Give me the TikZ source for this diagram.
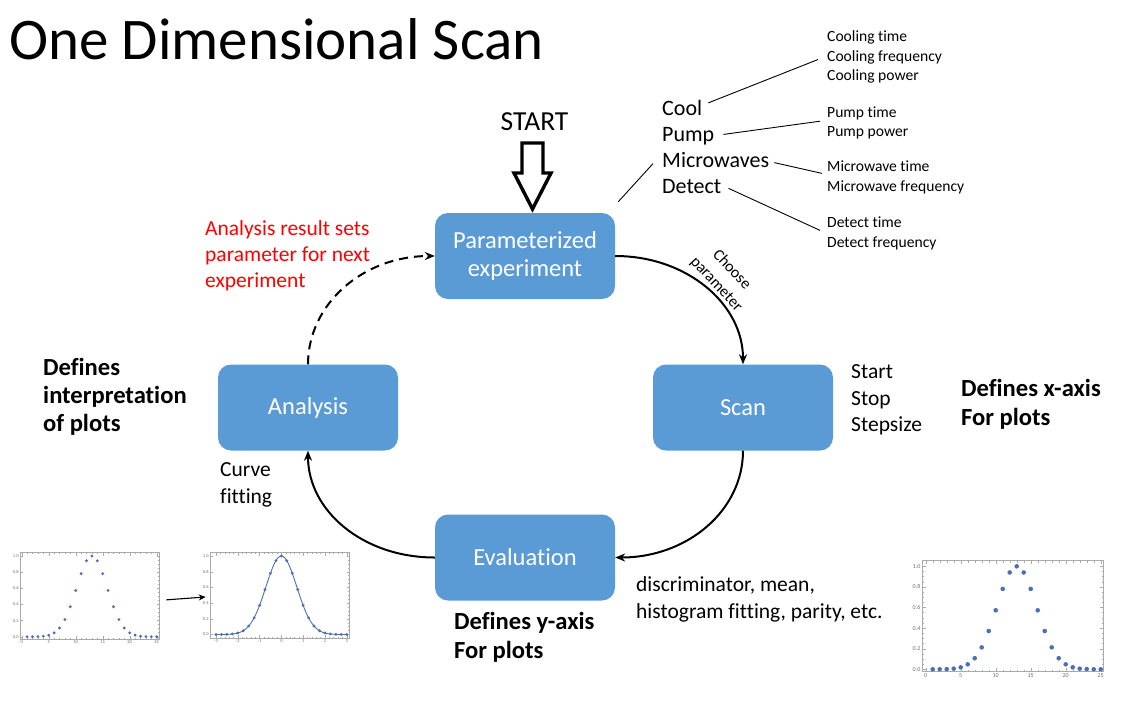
\documentclass[tikz,border=0pt]{standalone}
\usepackage{fontspec}
\setmainfont{Carlito}[Ligatures=NoCommon]
\usetikzlibrary{arrows.meta,calc}
\definecolor{boxblue}{HTML}{5B9BD5}
\definecolor{dotblue}{RGB}{78,112,178}
\definecolor{framegray}{RGB}{170,170,170}
\definecolor{labgray}{RGB}{110,110,110}
\definecolor{notered}{RGB}{255,0,0}

\newcommand\fs[2]{\fontsize{#1}{#2}\selectfont}
% 25 samples of a Gaussian: #1 x-origin, #2 x-step, #3 y-origin, #4 y-scale, #5 dot radius
\newcommand\gaussdots[5]{%
  \foreach \i in {1,...,25}{\fill[dotblue] ({#1+#2*\i},{#3-#4*exp(-((\i-13)^2)/16.16)}) circle (#5);}}
% frame ticks: #1 list, #2 origin, #3 step, #4 first edge, #5 second edge, #6 length
\newcommand\xticks[6]{%
  \foreach \v in {#1}{\draw[tickline] ({#2+#3*\v},#5) -- ++(0,-#6) ({#2+#3*\v},#4) -- ++(0,#6);}}
\newcommand\yticks[6]{%
  \foreach \v in {#1}{\draw[tickline] (#4,{#2-#3*\v}) -- ++(#6,0) (#5,{#2-#3*\v}) -- ++(-#6,0);}}

\begin{document}
\begin{tikzpicture}[x=1pt,y=-1pt,
  stage/.style={fill=boxblue, rounded corners=13pt, minimum width=180pt,
    minimum height=86pt, text=white, align=center, font=\fs{24.5}{27.5}},
  flow/.style={line width=2pt, -{Stealth[length=10pt,width=8pt]}},
  txt/.style={anchor=base west, inner sep=0pt},
  body/.style={txt, font=\fs{21.5}{24}},
  heading/.style={txt, font=\fs{24.6}{28}\bfseries},
  step word/.style={txt, font=\fs{22}{24}},
  setting/.style={txt, font=\fs{15.6}{17}},
  plotframe/.style={draw=framegray, line width=0.6pt, inner sep=0pt},
  tickline/.style={draw=framegray, line width=0.4pt},
  ticklab/.style={inner sep=0.5pt, text=labgray},
  leader/.style={line width=0.9pt}
]
\useasboundingbox (0,0) rectangle (1121,705);

% title
\node[txt, font=\fs{59}{62}] (title) at (9,59) {One Dimensional Scan};

% the four stages of the loop
\node[stage] (param) at (525,256) {Parameterized\\experiment};
\node[stage] (scan)  at (743,407.5) {Scan};
\node[stage] (eval)  at (525,557.5) {Evaluation};
\node[stage] (anal)  at (308,407.5) {Analysis};

% loop connectors
\draw[flow] (param.east) .. controls +(72,0) and +(0,-60) .. (scan.north);
\draw[flow] (scan.south) .. controls +(0,60) and +(72,0) .. (eval.east);
\draw[flow] (eval.west) .. controls +(-72,0) and +(0,60) .. (anal.south);
\draw[flow, dash pattern=on 9pt off 6pt] (anal.north) .. controls +(0,-60) and +(-72,0) .. (param.west);

% start marker
\node[txt, font=\fs{27.5}{30}, anchor=base] (start) at (534.5,130.5) {START};
\draw[line width=3.4pt, line join=miter]
  (522,143) -- (543,143) -- (543,173) -- (551,173) -- (532.5,209)
  -- (514,173) -- (522,173) -- cycle;

% experiment steps and their settings
\node[step word] (cool)   at (662,115)   {Cool};
\node[step word] (pump)   at (662,141.7) {Pump};
\node[step word] (micro)  at (662,167.7) {Microwaves};
\node[step word] (detect) at (662,193.3) {Detect};

\node[setting] (ct) at (827,41.7)  {Cooling time};
\node[setting] (cf) at (827,61.7)  {Cooling frequency};
\node[setting] (cp) at (827,80.7)  {Cooling power};
\node[setting] (pt) at (827,117.3) {Pump time};
\node[setting] (pp) at (827,136.7) {Pump power};
\node[setting] (mt) at (827,171.7) {Microwave time};
\node[setting] (mf) at (827,191.7) {Microwave frequency};
\node[setting] (dt) at (827,227.3) {Detect time};
\node[setting] (df) at (827,247.3) {Detect frequency};

\draw[leader] ($(cool.east)+(6,-4.6)$)   -- ($(cf.west)+(-9,1.9)$);
\draw[leader] ($(pump.east)+(9,-2)$)     -- ($(pt.west)+(-7,8)$);
\draw[leader] ($(micro.east)+(5,2.4)$)   -- ($(mt.west)+(-5,7)$);
\draw[leader] ($(detect.east)+(7,2)$)    -- ($(dt.west)+(-7,8.4)$);
\draw[leader] ($(param.north east)+(3,-11)$) -- ($(micro.west)+(-9,3.4)$);

% annotations
\node[rotate=-47, align=center, font=\fs{16}{21}] (choose) at (724,277) {Choose\\parameter};

\node[body, text=notered] (r1) at (205,235) {Analysis result sets};
\node[body, text=notered] (r2) at (205,261) {parameter for next};
\node[body, text=notered] (r3) at (205,287) {experiment};

\node[heading] (li1) at (43,375)   {Defines};
\node[heading] (li2) at (43,403.3) {interpretation};
\node[heading] (li3) at (43,431.7) {of plots};

\node[body] (cv1) at (220,476.7) {Curve};
\node[body] (cv2) at (220,503.3) {fitting};

\node[body] (ss1) at (851,378.3) {Start};
\node[body] (ss2) at (851,405)   {Stop};
\node[body] (ss3) at (851,431)   {Stepsize};

\node[heading] (xa1) at (961,396) {Defines x-axis};
\node[heading] (xa2) at (961,425) {For plots};

\node[heading] (ya1) at (454,629) {Defines y-axis};
\node[heading] (ya2) at (454,658) {For plots};

\node[body] (ev1) at (636,591.7) {discriminator, mean,};
\node[body] (ev2) at (636,618.3) {histogram fitting, parity, etc.};

% raw scan data
\node[plotframe, minimum width=139.3pt, minimum height=86.3pt] (pA) at (89.65,595.85) {};
\xticks{0,...,25}{21.7}{5.4}{552.7}{639}{1.4}
\xticks{0,5,...,25}{21.7}{5.4}{552.7}{639}{2.8}
\yticks{0,...,20}{636.7}{4.035}{20}{159.3}{1.4}
\yticks{0,...,5}{636.7}{16.14}{20}{159.3}{2.8}
\foreach \v in {0,5,...,25}
  \node[ticklab, anchor=north, font=\fs{4.5}{5}] (pAx\v) at ({21.7+5.4*\v},639.8) {\v};
\foreach \k/\t in {0/0.0,1/0.2,2/0.4,3/0.6,4/0.8,5/1.0}
  \node[ticklab, anchor=east, font=\fs{4.5}{5}] (pAy\k) at (19.3,{636.7-16.14*\k}) {\t};
\gaussdots{21.7}{5.4}{636.7}{80.7}{1.6}

% fitted curve
\node[plotframe, minimum width=139.3pt, minimum height=85.3pt] (pB) at (279.65,595.35) {};
\xticks{-15,...,15}{281.4}{4.356}{552.7}{638}{1.4}
\xticks{-15,-10,...,15}{281.4}{4.356}{552.7}{638}{2.8}
\yticks{0,...,20}{634.5}{3.925}{210}{349.3}{1.4}
\yticks{0,...,5}{634.5}{15.7}{210}{349.3}{2.8}
\foreach \t [count=\n] in {-3,...,3}
  \node[ticklab, anchor=north, font=\fs{4.5}{5}] (pBx\n) at ({281.4+21.78*\t},638.8) {\t};
\foreach \k/\t in {0/0.0,1/0.2,2/0.4,3/0.6,4/0.8,5/1.0}
  \node[ticklab, anchor=east, font=\fs{4.5}{5}] (pBy\k) at (209.3,{634.5-15.7*\k}) {\t};
\draw[dotblue, line width=0.9pt] plot[domain=1:25, samples=121, smooth]
  ({210.554+5.446*\x},{634.5-78.5*exp(-((\x-13)^2)/16.16)});
\gaussdots{210.554}{5.446}{634.5}{78.5}{1.6}

\draw[line width=1.1pt, -{Stealth[length=7pt,width=6pt]}]
  ($(pA.east)+(6.7,4)$) -- ($(pB.west)+(-4,1.6)$);

% evaluated data
\node[plotframe, minimum width=181.3pt, minimum height=111pt] (pC) at (1012.65,616.2) {};
\xticks{0,...,25}{925.7}{7}{560.7}{671.7}{1.8}
\xticks{0,5,...,25}{925.7}{7}{560.7}{671.7}{3.6}
\yticks{0,...,20}{669.3}{5.15}{922}{1103.3}{1.8}
\yticks{0,...,5}{669.3}{20.6}{922}{1103.3}{3.6}
\foreach \v in {0,5,...,25}
  \node[ticklab, anchor=north, font=\fs{6}{7}] (pCx\v) at ({925.7+7*\v},673) {\v};
\foreach \k/\t in {0/0.0,1/0.2,2/0.4,3/0.6,4/0.8,5/1.0}
  \node[ticklab, anchor=east, font=\fs{6}{7}] (pCy\k) at (921,{669.3-20.6*\k}) {\t};
\gaussdots{925.7}{7}{669.3}{103}{2.3}

\end{tikzpicture}
\end{document}
